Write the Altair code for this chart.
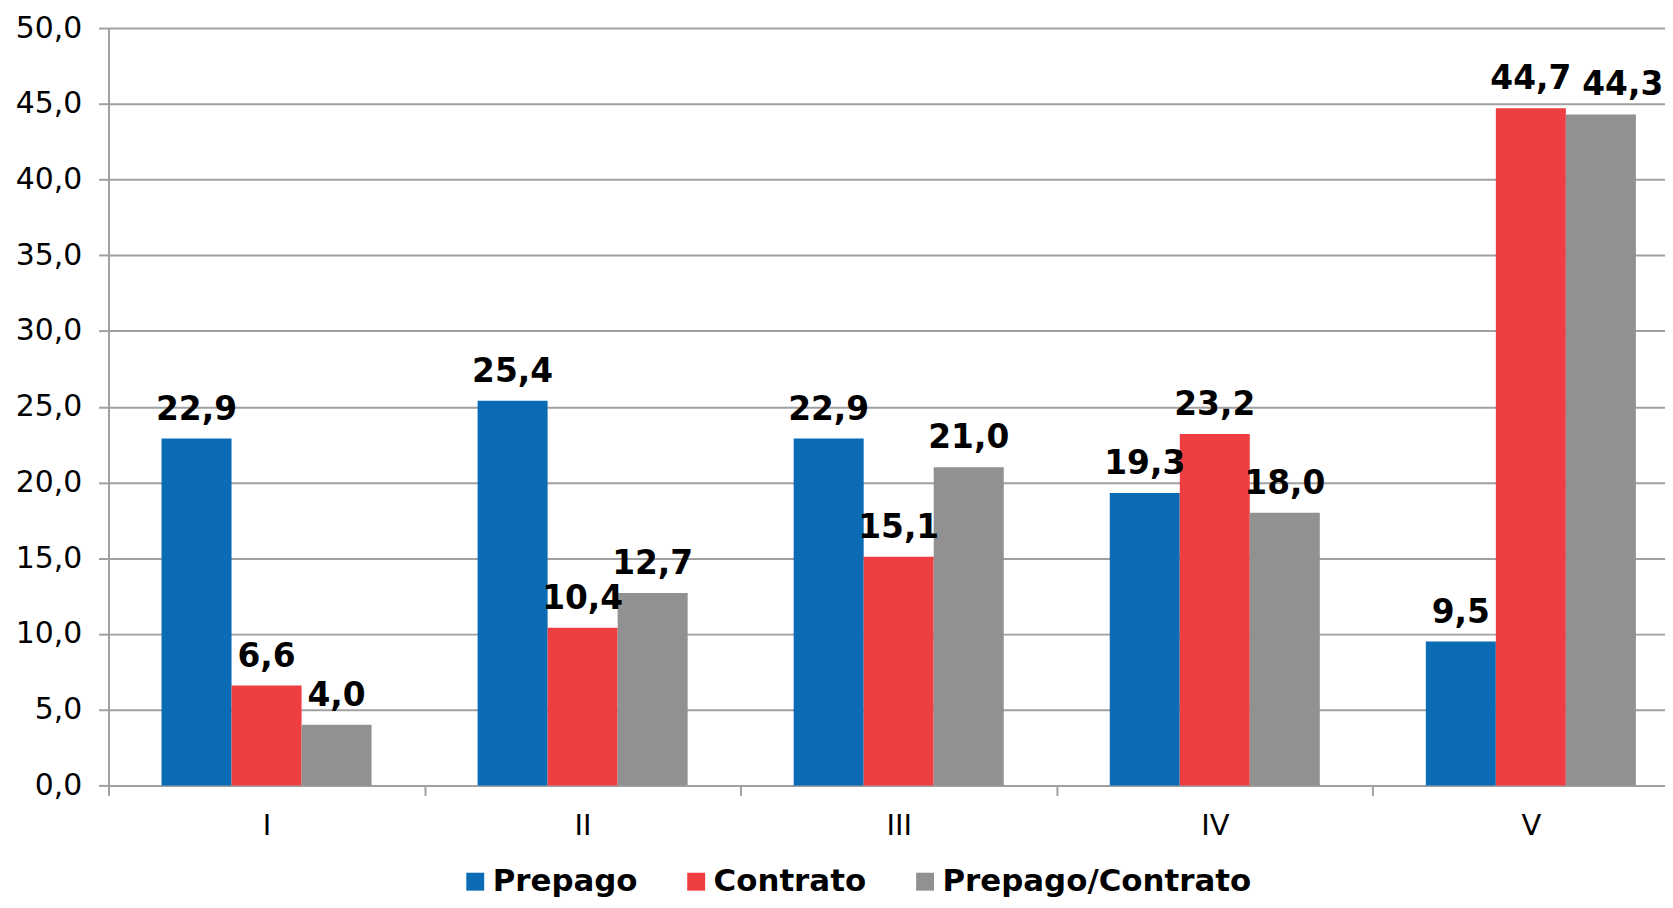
import altair as alt
import pandas as pd

categories = ["I", "II", "III", "IV", "V"]
series_names = ["Prepago", "Contrato", "Prepago/Contrato"]
prepago = [22.9, 25.4, 22.9, 19.3, 9.5]
contrato = [6.6, 10.4, 15.1, 23.2, 44.7]
mixto = [4.0, 12.7, 21.0, 18.0, 44.3]
colors = ["#0B6BB5", "#EF3E42", "#919191"]
y_ticks = [0, 5, 10, 15, 20, 25, 30, 35, 40, 45, 50]

rows = []
for s, vals in zip(series_names, [prepago, contrato, mixto]):
    for c, v in zip(categories, vals):
        rows.append({"cat": c, "series": s, "value": v})
df = pd.DataFrame(rows)

FONT = "DejaVu Sans"

x_enc = alt.X(
    "cat:N",
    sort=categories,
    scale=alt.Scale(range=[0, 1588], paddingInner=0, paddingOuter=0),
    axis=alt.Axis(
        title=None,
        labelAngle=0,
        labelFont=FONT,
        labelFontSize=29,
        labelColor="black",
        labelPadding=16,
        tickBand="extent",
        ticks=True,
        tickSize=10,
        tickColor="#A0A0A0",
        tickWidth=2,
        domainColor="#A0A0A0",
        domainWidth=2,
        grid=False,
    ),
)
xo_enc = alt.XOffset("series:N", sort=series_names,
                     scale=alt.Scale(paddingInner=0, paddingOuter=0.757))
y_enc = alt.Y(
    "value:Q",
    scale=alt.Scale(domain=[0, 50], nice=False),
    axis=alt.Axis(
        title=None,
        values=y_ticks,
        labelExpr="replace(format(datum.value, '.1f'), '.', ',')",
        labelFont=FONT,
        labelFontSize=30,
        labelColor="black",
        labelPadding=17,
        tickSize=10,
        tickColor="#A0A0A0",
        tickWidth=2,
        domainColor="#A0A0A0",
        domainWidth=2,
        grid=True,
        gridColor="#A0A0A0",
        gridWidth=2,
    ),
)

base = alt.Chart(df).encode(x=x_enc, xOffset=xo_enc, y=y_enc)

bars = base.mark_bar().encode(
    color=alt.Color(
        "series:N",
        sort=series_names,
        scale=alt.Scale(domain=series_names, range=colors),
        legend=alt.Legend(
            title=None,
            orient="none",
            direction="horizontal",
            legendX=353,
            legendY=842,
            symbolType="square",
            symbolSize=324,
            symbolStrokeWidth=0,
            symbolOpacity=1,
            labelFont=FONT,
            labelFontSize=31,
            labelFontWeight="bold",
            labelColor="black",
            labelOffset=2,
            columnPadding=43,
            labelLimit=500,
        ),
    )
)

label_base = base.transform_calculate(
    label="replace(format(datum.value, '.1f'), '.', ',')",
    crowded="datum.cat == 'V' && datum.series == 'Prepago/Contrato'",
)

label_style = dict(dy=-19, fontSize=33, fontWeight="bold", font=FONT,
                   color="black", baseline="alphabetic")

labels = label_base.transform_filter("!datum.crowded").mark_text(
    **label_style
).encode(text="label:N")

labels_shifted = label_base.transform_filter("datum.crowded").mark_text(
    dx=22, **label_style
).encode(text="label:N")

chart = (
    alt.layer(bars, labels, labels_shifted)
    .properties(
        width=1564,
        height=761,
        autosize=alt.AutoSizeParams(type="none"),
        padding={"left": 101, "top": 18, "right": 0, "bottom": 113},
    )
    .configure_view(stroke=None)
)

chart.save("out.html", embed_options={"renderer": "svg", "actions": False})
